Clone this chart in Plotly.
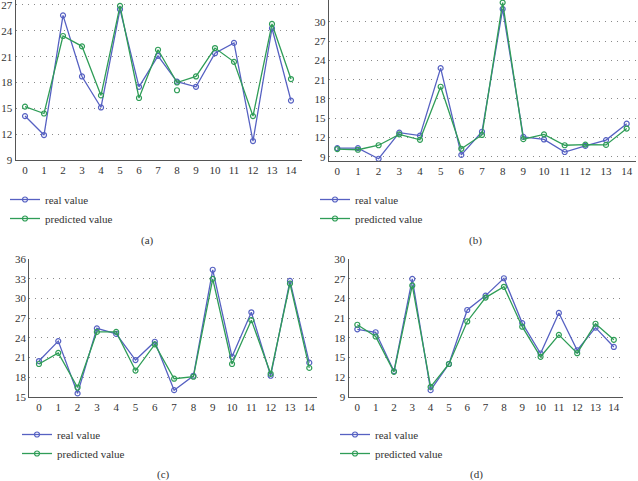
import plotly.graph_objects as go

# ---------------- data ----------------
x_vals = list(range(15))
tick_x = list(range(15))

a_real = [14.1, 11.9, 25.8, 18.7, 15.1, 26.5, 17.5, 21.1, 18.1, 17.5, 21.4, 22.6, 11.2, 24.3, 15.9]
a_pred = [15.2, 14.4, 23.4, 22.2, 16.5, 26.9, 16.2, 21.8, 18.0, 18.7, 22.0, 20.4, 14.1, 24.8, 18.4]
a_pred_stray_x = [8]
a_pred_stray_y = [17.1]

b_real = [10.35, 10.35, 8.7, 12.75, 12.3, 22.8, 9.3, 12.9, 32.0, 12.1, 11.7, 9.75, 10.7, 11.6, 14.15]
b_pred = [10.2, 10.1, 10.8, 12.5, 11.65, 19.9, 10.25, 12.4, 33.0, 11.75, 12.5, 10.8, 10.9, 10.85, 13.4]

c_real = [20.45, 23.5, 15.5, 25.45, 24.6, 20.6, 23.4, 16.0, 18.2, 34.4, 21.1, 27.9, 18.2, 32.7, 20.2]
c_pred = [20.0, 21.7, 16.4, 24.9, 24.9, 19.0, 23.0, 17.75, 18.05, 33.0, 20.0, 26.7, 18.5, 32.3, 19.4]

d_real = [19.3, 18.85, 12.9, 27.0, 10.0, 14.0, 22.25, 24.45, 27.1, 20.25, 15.6, 21.8, 16.1, 19.55, 16.6]
d_pred = [20.0, 18.2, 12.8, 26.0, 10.5, 14.0, 20.5, 24.15, 25.8, 19.7, 15.1, 18.45, 15.65, 20.15, 17.7]

a_yticks = [9, 12, 15, 18, 21, 24, 27]
b_yticks = [9, 12, 15, 18, 21, 24, 27, 30]
c_yticks = [15, 18, 21, 24, 27, 30, 33, 36]
d_yticks = [9, 12, 15, 18, 21, 24, 27, 30]

series_names = ["real value", "predicted value"]
captions = ["(a)", "(b)", "(c)", "(d)"]

# ---------------- style / layout ----------------
W, H = 638, 481
BLUE = "#5661c2"
GREEN = "#2f9d57"
FONT = "Liberation Serif"
TXT = "#333333"

def dx(a, b):
    return [a / W, b / W]

def dy(top, bottom):
    return [1 - bottom / H, 1 - top / H]

panels = [
    dict(real=a_real, pred=a_pred, yt=a_yticks, xd=(15.7, 302), yd=(0, 160),
         xr=[-0.49, 14.58], yr=[9, 27.58], leg=(5, 185), cap=(147, 240)),
    dict(real=b_real, pred=b_pred, yt=b_yticks, xd=(329, 636), yd=(0, 161),
         xr=[-0.4, 14.45], yr=[8.35, 33.4], leg=(315, 185), cap=(475, 240)),
    dict(real=c_real, pred=c_pred, yt=c_yticks, xd=(29.3, 317), yd=(259.3, 396.7),
         xr=[-0.5, 14.4], yr=[15, 36], leg=(17, 420), cap=(163, 474)),
    dict(real=d_real, pred=d_pred, yt=d_yticks, xd=(348.7, 623), yd=(259.3, 396.7),
         xr=[-0.47, 14.5], yr=[9, 30], leg=(335, 420), cap=(476, 474)),
]

fig = go.Figure()
layout = dict(
    width=W, height=H, margin=dict(l=0, r=0, t=0, b=0, autoexpand=False),
    paper_bgcolor="white", plot_bgcolor="white",
    font=dict(family=FONT, size=11, color=TXT),
    showlegend=True, annotations=[],
)

for i, p in enumerate(panels):
    n = "" if i == 0 else str(i + 1)
    xa, ya = "x" + n, "y" + n
    lg = "legend" + n
    fig.add_trace(go.Scatter(
        x=x_vals, y=p["real"], name=series_names[0], mode="lines+markers",
        xaxis=xa, yaxis=ya, legend=lg, cliponaxis=False,
        line=dict(color=BLUE, width=1.3),
        marker=dict(symbol="circle-open", size=5, color=BLUE, line=dict(width=1.2)),
    ))
    fig.add_trace(go.Scatter(
        x=x_vals, y=p["pred"], name=series_names[1], mode="lines+markers",
        xaxis=xa, yaxis=ya, legend=lg, cliponaxis=False,
        line=dict(color=GREEN, width=1.3),
        marker=dict(symbol="circle-open", size=5, color=GREEN, line=dict(width=1.2)),
    ))
    if i == 0:
        fig.add_trace(go.Scatter(
            x=a_pred_stray_x, y=a_pred_stray_y, mode="markers", showlegend=False,
            xaxis=xa, yaxis=ya,
            marker=dict(symbol="circle-open", size=5, color=GREEN, line=dict(width=1.2)),
        ))
    layout["xaxis" + n] = dict(
        domain=dx(*p["xd"]), range=p["xr"], tickvals=tick_x, ticktext=[str(t) for t in tick_x],
        showgrid=False, zeroline=False, showline=True, linecolor="#555555", linewidth=1.4,
        ticks="", tickfont=dict(family=FONT, size=11, color=TXT), anchor=ya,
        fixedrange=True, automargin=False, ticklabeloverflow="allow",
    )
    layout["yaxis" + n] = dict(
        domain=dy(*p["yd"]), range=p["yr"], tickvals=p["yt"],
        showgrid=True, gridcolor="#8a8a8a", gridwidth=1, griddash="1px,5px",
        zeroline=False, showline=True, linecolor="#555555", linewidth=1.4,
        ticks="", tickfont=dict(family=FONT, size=11, color=TXT), anchor=xa,
        fixedrange=True, automargin=False, ticklabeloverflow="allow",
    )
    layout[lg] = dict(
        x=p["leg"][0] / W, y=1 - p["leg"][1] / H, xanchor="left", yanchor="top",
        bgcolor="rgba(0,0,0,0)", font=dict(family=FONT, size=11, color=TXT),
        orientation="v", tracegroupgap=0,
    )
    layout["annotations"].append(dict(
        x=p["cap"][0] / W, y=1 - p["cap"][1] / H, xref="paper", yref="paper",
        text=captions[i], showarrow=False, xanchor="center", yanchor="middle",
        font=dict(family=FONT, size=11, color=TXT),
    ))

fig.update_layout(**layout)
fig.write_html(
    "out.html",
    config={"displayModeBar": False},
    post_script="document.body.style.margin='0';document.body.style.overflow='hidden';",
)
